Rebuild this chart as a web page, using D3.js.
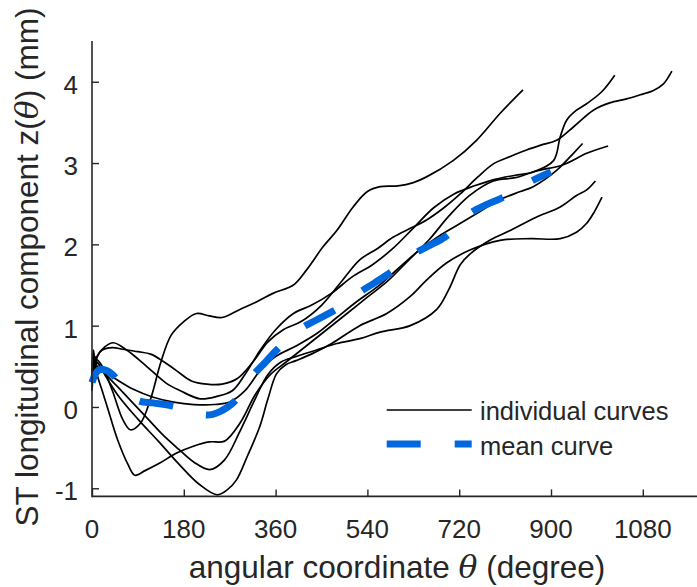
<!DOCTYPE html>
<html>
<head>
<meta charset="utf-8">
<script src="https://d3js.org/d3.v7.min.js"></script>
<style>
  body { margin: 0; background: #fff; }
  text { font-family: "Liberation Sans", Arial, Helvetica, sans-serif; fill: #262626; }
  .th { font-family: "DejaVu Serif", "Liberation Serif", serif; font-style: italic; }
</style>
</head>
<body>
<svg id="chart" width="697" height="587"></svg>
<script>

// tick values
var xTicks = [0, 180, 360, 540, 720, 900, 1080];
var yTicks = [-1, 0, 1, 2, 3, 4];

// individual curves, [theta (deg), z (mm)]
var curveA = [[0,0.45],[3,0.62],[6,0.5],[10,0.58],[20,0.5],[40,0.2],[60,-0.15],[75,-0.28],[95,-0.2],[115,0.1],[135,0.55],[155,0.88],[180,1.05],[205,1.15],[230,1.12],[255,1.1],[290,1.2],[325,1.3],[356,1.4],[395,1.5],[420,1.68],[453,1.97],[480,2.17],[512,2.46],[540,2.65],[565,2.71],[600,2.72],[630,2.76],[656,2.83],[708,3.03],[754,3.28],[800,3.61],[845,3.9]];
var curveB = [[0,0.35],[3,0.55],[6,0.45],[10,0.62],[20,0.7],[40,0.73],[60,0.71],[90,0.68],[115,0.65],[140,0.56],[165,0.45],[195,0.32],[225,0.28],[255,0.28],[285,0.35],[315,0.55],[345,0.8],[375,0.95],[410,1.05],[450,1.25],[490,1.55],[525,1.81],[560,1.95],[591,2.09],[625,2.2],[656,2.3],[690,2.45],[722,2.62],[755,2.82],[787,2.99],[820,3.08],[852,3.16],[880,3.22],[911,3.28],[945,3.45],[983,3.65],[1015,3.74],[1048,3.79],[1075,3.84],[1100,3.89],[1120,3.97],[1137,4.13]];
var curveC = [[0,0.5],[3,0.7],[6,0.52],[10,0.62],[25,0.74],[42,0.79],[68,0.7],[107,0.5],[146,0.29],[173,0.2],[212,0.1],[245,0.13],[275,0.2],[300,0.4],[330,0.7],[360,0.95],[395,1.15],[430,1.25],[470,1.4],[510,1.6],[550,1.75],[590,1.95],[630,2.2],[670,2.45],[710,2.62],[750,2.72],[790,2.8],[830,2.85],[865,2.89],[905,3.03],[918,3.32],[931,3.53],[950,3.65],[970,3.73],[1000,3.88],[1025,4.08]];
var curveD = [[0,0.3],[3,0.5],[6,0.62],[10,0.5],[20,0.45],[45,0.35],[80,0.22],[120,0.12],[160,0.06],[200,0.03],[240,0.03],[270,0.06],[300,0.2],[330,0.45],[360,0.62],[400,0.75],[440,0.9],[480,1.1],[520,1.3],[560,1.48],[600,1.7],[640,1.92],[680,2.1],[720,2.25],[760,2.4],[800,2.55],[840,2.65],[865,2.71],[911,2.91],[944,3.12],[962,3.24]];
var curveE = [[0,0.2],[3,0.45],[6,0.55],[10,0.4],[20,0.2],[30,0.0],[50,-0.4],[70,-0.7],[84,-0.84],[105,-0.78],[133,-0.69],[165,-0.57],[200,-0.48],[230,-0.43],[260,-0.42],[290,-0.2],[320,0.15],[350,0.4],[380,0.55],[420,0.75],[460,0.95],[500,1.15],[540,1.35],[580,1.55],[620,1.8],[660,2.05],[700,2.35],[740,2.6],[787,2.78],[830,2.82],[870,2.9],[924,2.98],[970,3.12],[1012,3.21]];
var curveF = [[0,0.4],[3,0.58],[6,0.48],[10,0.55],[20,0.45],[50,0.25],[80,0.05],[110,-0.15],[140,-0.35],[170,-0.52],[200,-0.68],[231,-0.77],[260,-0.65],[290,-0.3],[320,0.1],[345,0.4],[370,0.55],[400,0.62],[440,0.7],[480,0.78],[525,0.84],[565,0.92],[624,1.0],[676,1.2],[700,1.45],[722,1.75],[741,1.88],[780,2.05],[820,2.17],[870,2.33],[918,2.46],[950,2.6],[970,2.67],[987,2.78]];
var curveG = [[0,0.35],[3,0.6],[6,0.5],[10,0.55],[20,0.45],[50,0.15],[90,-0.15],[130,-0.42],[170,-0.7],[210,-0.95],[245,-1.08],[265,-1.02],[283,-0.9],[305,-0.6],[329,-0.24],[345,0.1],[362,0.41],[380,0.52],[400,0.57],[430,0.65],[470,0.78],[525,1.0],[578,1.15],[624,1.36],[656,1.56],[695,1.77],[741,1.93],[800,2.05],[860,2.07],[918,2.07],[950,2.15],[970,2.26],[985,2.4],[1000,2.58]];

// mean curve
var meanCurve = [[0,0.3],[6,0.4],[12,0.45],[22,0.46],[40,0.4],[60,0.24],[90,0.08],[120,0.05],[156,0.015],[190,-0.04],[225,-0.1],[250,-0.06],[280,0.07],[316,0.39],[340,0.55],[362,0.7],[411,0.97],[440,1.07],[470,1.17],[500,1.28],[525,1.41],[555,1.53],[584,1.65],[610,1.77],[633,1.89],[660,1.98],[692,2.09],[715,2.22],[741,2.38],[770,2.48],[800,2.56],[830,2.66],[859,2.77],[900,2.89]];

var curves = [curveA, curveB, curveC, curveD, curveE, curveF, curveG];

var svg = d3.select("#chart");

var x = d3.scaleLinear().domain([0, 1190]).range([92, 698.9]);
var y = d3.scaleLinear().domain([-1.1, 4.5]).range([496.4, 41.1]);

var line = d3.line()
  .x(function(d) { return x(d[0]); })
  .y(function(d) { return y(d[1]); })
  .curve(d3.curveCatmullRom.alpha(0.5));

// individual curves
svg.append("g").selectAll("path")
  .data(curves)
  .enter().append("path")
  .attr("d", line)
  .attr("fill", "none")
  .attr("stroke", "#000")
  .attr("stroke-width", 1.7);

// mean curve
svg.append("path")
  .datum(meanCurve)
  .attr("d", line)
  .attr("fill", "none")
  .attr("stroke", "#0068de")
  .attr("stroke-width", 7)
  .attr("stroke-dasharray", "34,34");

// axes (ticks inside, like matlab)
var xAxis = d3.axisBottom(x).tickValues(xTicks).tickSize(-7).tickPadding(0).tickFormat("");
var yAxis = d3.axisLeft(y).tickValues(yTicks).tickSize(-7).tickPadding(0).tickFormat("");

var gx = svg.append("g").attr("transform", "translate(0,496.4)").call(xAxis);
var gy = svg.append("g").attr("transform", "translate(92,0)").call(yAxis);
[gx, gy].forEach(function(g) {
  g.select(".domain").remove();
  g.selectAll(".tick line").attr("stroke", "#262626").attr("stroke-width", 1.4);
});
svg.append("line").attr("x1", 92).attr("x2", 697).attr("y1", 496.4).attr("y2", 496.4)
  .attr("stroke", "#262626").attr("stroke-width", 1.6);
svg.append("line").attr("x1", 92).attr("x2", 92).attr("y1", 41.1).attr("y2", 497.2)
  .attr("stroke", "#262626").attr("stroke-width", 1.6);

// tick labels
svg.append("g").selectAll("text")
  .data(xTicks)
  .enter().append("text")
  .attr("x", function(d) { return x(d); })
  .attr("y", 538)
  .attr("text-anchor", "middle")
  .style("font-size", "26px")
  .text(function(d) { return d; });

svg.append("g").selectAll("text")
  .data(yTicks)
  .enter().append("text")
  .attr("x", 78)
  .attr("y", function(d) { return y(d) + 12; })
  .attr("text-anchor", "end")
  .style("font-size", "26px")
  .text(function(d) { return d; });

// axis titles
var xt = svg.append("text")
  .attr("x", 397).attr("y", 578)
  .attr("text-anchor", "middle")
  .style("font-size", "31.5px");
xt.append("tspan").text("angular coordinate ");
xt.append("tspan").attr("class", "th").text("θ");
xt.append("tspan").text(" (degree)");

var yt = svg.append("text")
  .attr("transform", "translate(38,267) rotate(-90)")
  .attr("text-anchor", "middle")
  .style("font-size", "31.5px");
yt.append("tspan").text("ST longitudinal component z(");
yt.append("tspan").attr("class", "th").text("θ");
yt.append("tspan").text(") (mm)");

// legend
var leg = svg.append("g");
leg.append("line").attr("x1", 386.7).attr("x2", 471.7).attr("y1", 410).attr("y2", 410)
  .attr("stroke", "#000").attr("stroke-width", 1.7);
leg.append("line").attr("x1", 386.7).attr("x2", 471.7).attr("y1", 444).attr("y2", 444)
  .attr("stroke", "#0068de").attr("stroke-width", 7).attr("stroke-dasharray", "34,34");
leg.append("text").attr("x", 480).attr("y", 420).style("font-size", "25.5px").text("individual curves");
leg.append("text").attr("x", 480).attr("y", 455).style("font-size", "25.5px").text("mean curve");

</script>
</body>
</html>
